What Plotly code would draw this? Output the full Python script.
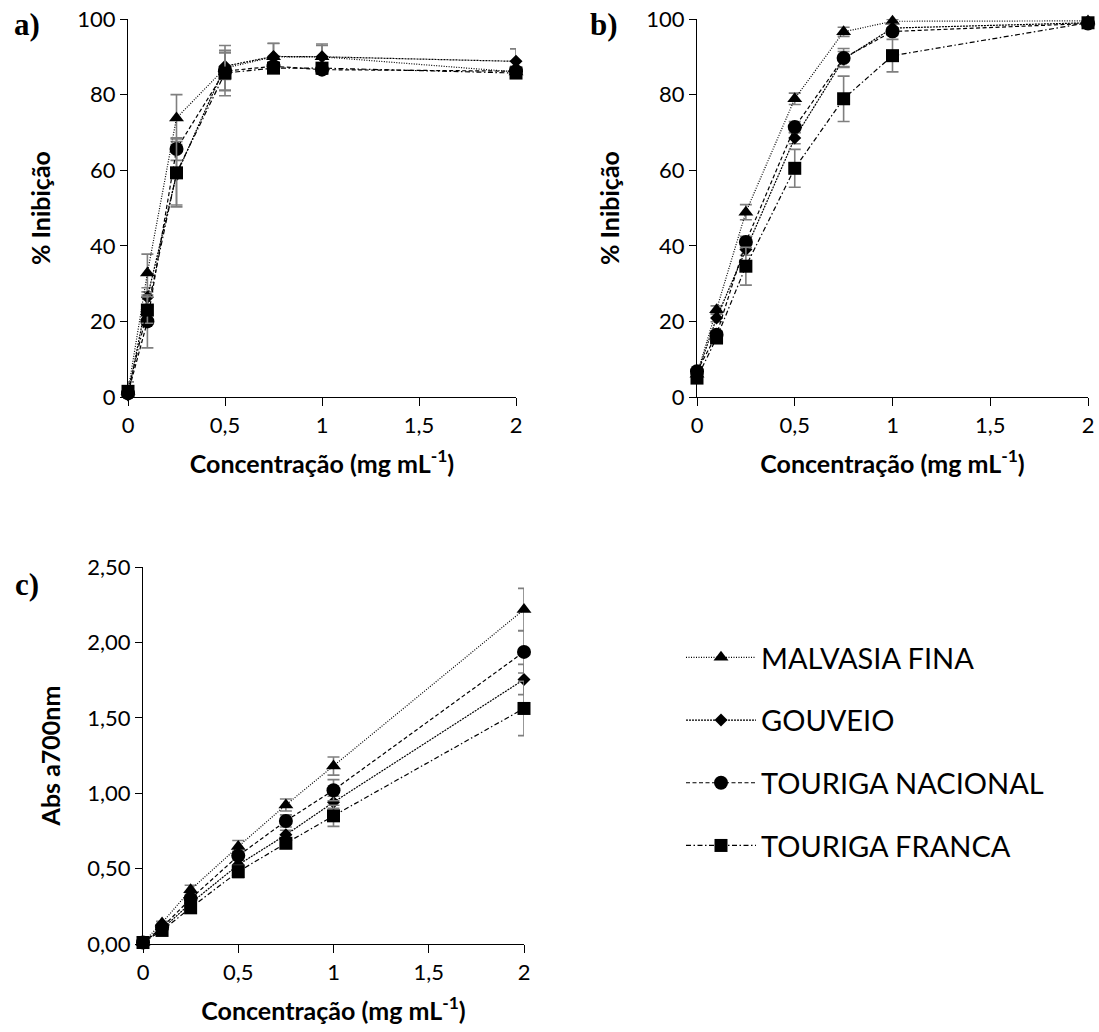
import plotly.graph_objects as go

# Concentrations (mg/mL)
conc = [0, 0.1, 0.25, 0.5, 0.75, 1, 2]

series_names = ["MALVASIA FINA", "GOUVEIO", "TOURIGA NACIONAL", "TOURIGA FRANCA"]

# a) % inhibition
malvasia_a = [1.5, 32.8, 73.8, 87.0, 90.0, 90.0, 86.0]
gouveio_a = [0.5, 26.4, 58.8, 87.5, 90.1, 90.0, 88.8]
nacional_a = [1.0, 20.0, 65.6, 86.2, 87.5, 86.6, 86.2]
franca_a = [1.5, 23.0, 59.3, 85.7, 87.0, 87.0, 85.7]
malvasia_a_err = [2.5, 5.0, 6.2, 6.0, 3.5, 3.0, 1.5]
gouveio_a_err = [1.0, 2.5, 8.0, 3.5, 3.5, 3.4, 3.3]
nacional_a_err = [1.0, 7.0, 3.0, 5.0, 1.0, 1.2, 1.0]
franca_a_err = [1.0, 3.5, 9.0, 6.0, 1.0, 1.0, 1.0]

# b) % inhibition
malvasia_b = [6.0, 23.1, 48.9, 78.9, 96.6, 99.4, 99.5]
gouveio_b = [6.0, 20.9, 39.0, 68.5, 89.4, 97.6, 99.0]
nacional_b = [6.8, 16.5, 41.0, 71.4, 89.7, 96.7, 98.8]
franca_b = [5.0, 15.6, 34.6, 60.5, 78.9, 90.3, 99.0]
malvasia_b_err = [0.5, 1.0, 2.0, 1.5, 1.2, 0.5, 0.5]
gouveio_b_err = [0.5, 1.0, 1.5, 1.5, 2.0, 1.0, 0.5]
nacional_b_err = [0.5, 1.0, 1.5, 1.5, 2.5, 1.0, 0.5]
franca_b_err = [0.5, 1.0, 5.0, 5.0, 6.0, 4.3, 0.5]

# c) absorbance at 700 nm
malvasia_c = [0.01, 0.14, 0.36, 0.646, 0.922, 1.18, 2.218]
gouveio_c = [0.01, 0.10, 0.27, 0.525, 0.724, 0.94, 1.754]
nacional_c = [0.01, 0.11, 0.30, 0.585, 0.816, 1.02, 1.937]
franca_c = [0.01, 0.09, 0.24, 0.48, 0.668, 0.85, 1.562]
malvasia_c_err = [0.005, 0.01, 0.03, 0.04, 0.04, 0.06, 0.14]
gouveio_c_err = [0.005, 0.01, 0.02, 0.03, 0.03, 0.04, 0.10]
nacional_c_err = [0.005, 0.01, 0.02, 0.03, 0.04, 0.07, 0.14]
franca_c_err = [0.005, 0.01, 0.02, 0.04, 0.03, 0.07, 0.18]

symbols = ["triangle-up", "diamond", "circle", "square"]
sizes = [13, 10, 14, 13]
dashes = ["1px,1.5px", "2px,1px", "4px,2.5px", "5px,2.5px,1.5px,2.5px"]

panels = [
    ("x", "y", [malvasia_a, gouveio_a, nacional_a, franca_a],
     [malvasia_a_err, gouveio_a_err, nacional_a_err, franca_a_err]),
    ("x2", "y2", [malvasia_b, gouveio_b, nacional_b, franca_b],
     [malvasia_b_err, gouveio_b_err, nacional_b_err, franca_b_err]),
    ("x3", "y3", [malvasia_c, gouveio_c, nacional_c, franca_c],
     [malvasia_c_err, gouveio_c_err, nacional_c_err, franca_c_err]),
]

FONT = "Lato"
fig = go.Figure()

for p, (xa, ya, values, errors) in enumerate(panels):
    for i, name in enumerate(series_names):
        fig.add_trace(go.Scatter(
            x=conc, y=values[i], xaxis=xa, yaxis=ya,
            mode="lines+markers", name=name,
            legendgroup=name, showlegend=(p == 2),
            line=dict(color="black", width=1.2, dash=dashes[i]),
            marker=dict(symbol=symbols[i], size=sizes[i], color="black"),
            error_y=dict(type="data", array=errors[i], color="#7f7f7f",
                         thickness=1.6, width=6),
            cliponaxis=False,
        ))

W, H = 1099, 1032


def xdom(a, b):
    return [a / W, b / W]


def ydom(top, bottom):
    return [1 - bottom / H, 1 - top / H]


tickfont = dict(family=FONT, size=22, color="black")
titlefont = dict(family=FONT, size=25, color="black", weight="bold")

xcommon = dict(range=[0, 2], dtick=0.5, tick0=0, showgrid=False, zeroline=False,
               showline=True, linecolor="black", linewidth=1.3,
               ticks="outside", ticklen=8, tickcolor="black", tickwidth=1.3,
               tickfont=tickfont, automargin=False)
ycommon = dict(showgrid=False, zeroline=False, showline=True, linecolor="black",
               linewidth=1.3, ticks="outside", ticklen=7, tickcolor="black",
               tickwidth=1.3, tickfont=tickfont, automargin=False)

xtitle = dict(text="Concentração (mg mL<sup>-1</sup>)", font=titlefont, standoff=18)

fig.update_layout(
    width=W, height=H,
    margin=dict(l=0, r=0, t=0, b=0),
    paper_bgcolor="white", plot_bgcolor="white",
    separators=", ",
    font=dict(family=FONT, color="black"),
    xaxis=dict(domain=xdom(128, 516), anchor="y", title=xtitle, **xcommon),
    yaxis=dict(domain=ydom(19, 397), anchor="x", range=[0, 100], dtick=20,
               title=dict(text="% Inibição", font=titlefont, standoff=19), **ycommon),
    xaxis2=dict(domain=xdom(697, 1088), anchor="y2", title=xtitle, **xcommon),
    yaxis2=dict(domain=ydom(19, 397), anchor="x2", range=[0, 100], dtick=20,
                title=dict(text="% Inibição", font=titlefont, standoff=19), **ycommon),
    xaxis3=dict(domain=xdom(143, 524), anchor="y3", title=xtitle, **xcommon),
    yaxis3=dict(domain=ydom(567, 944), anchor="x3", range=[0, 2.5], dtick=0.5,
                tickformat=".2f",
                title=dict(text="Abs a700nm", font=titlefont, standoff=19), **ycommon),
    legend=dict(x=681 / W, y=1 - 632 / H, xanchor="left", yanchor="top",
                font=dict(family=FONT, size=29, color="black"),
                tracegroupgap=22, itemwidth=70, bgcolor="rgba(0,0,0,0)"),
)

for label, x, y in [("a)", 27, 24), ("b)", 604, 24), ("c)", 27, 584)]:
    fig.add_annotation(text=label, x=x / W, y=1 - y / H, xref="paper", yref="paper",
                       xanchor="center", yanchor="middle", showarrow=False,
                       font=dict(family="Liberation Serif", size=31, color="black",
                                 weight="bold"))

fig.write_html("out.html")
